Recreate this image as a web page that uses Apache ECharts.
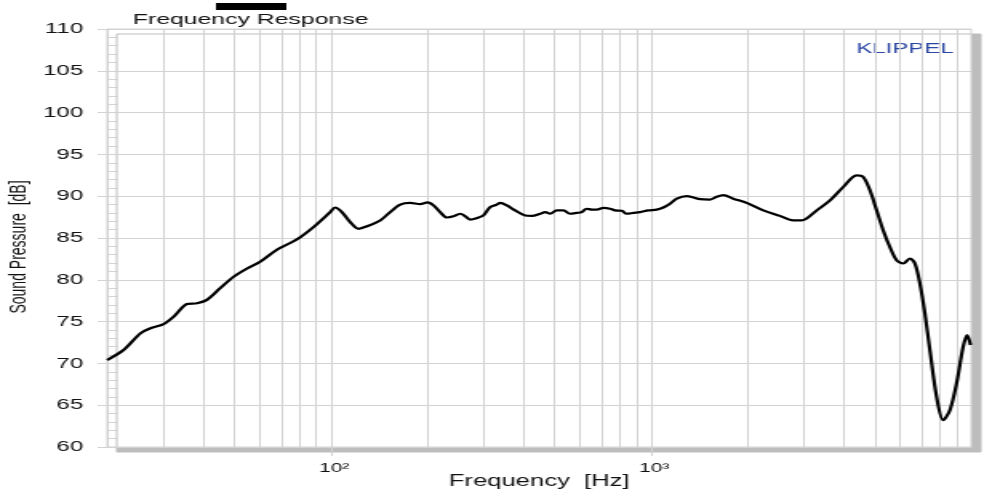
<!DOCTYPE html>
<html><head><meta charset="utf-8">
<script src="https://cdn.jsdelivr.net/npm/echarts@6/dist/echarts.min.js"></script>
<style>
html,body{margin:0;padding:0;background:#fff;overflow:hidden}
#wrap{width:984px;height:493px;overflow:hidden}
#c{width:615px;height:493px;transform:scaleX(1.6);transform-origin:0 0}
</style>
</head><body><div id="wrap"><div id="c"></div></div>
<script>
// Frequency response (Hz -> dB SPL)
const freqHz = [20, 22.5, 25.4, 27.3, 30, 32.3, 35.5, 38.2, 41, 45.1, 49.6, 54.7, 60.1, 67.8, 74.6, 80.2, 88.2, 99.5, 103.1, 108.2, 114.9, 122, 129.5, 142.5, 153.1, 164.6,
  176.9, 190, 200.3, 209.1, 219.4, 230.3, 241.5, 253.4, 262.7, 272.2, 289, 299.6, 314.3, 329.8, 337.8, 354.4, 376.2, 404.3, 424.2, 450.3, 466.9, 483.9, 507.7, 532.4, 558.6, 586.1, 607.5, 629.8, 652.9, 676.8, 709.7, 744.7, 772, 810.1, 839.7, 880.5, 924.1, 980.8,
  1042, 1092.5, 1146.4, 1203, 1293, 1356, 1422, 1528, 1604, 1682, 1806, 1990, 2242, 2528, 2782, 2954, 3291, 3622, 3985, 4387, 4601, 4828, 5068, 5313, 5576, 5850, 6134, 6436, 6673, 6917, 7170, 7430, 7798, 8176, 8580, 9004, 9441, 9716, 9956];
const splDb = [70.4, 71.6, 73.6, 74.2, 74.7, 75.6, 77.1, 77.2, 77.6, 79.0, 80.35, 81.35, 82.15, 83.6, 84.4, 85.1, 86.3, 88.1, 88.65, 88.1, 86.9, 86.1, 86.4, 87.1, 88.1, 89.0,
  89.2, 89.05, 89.25, 88.9, 88.1, 87.45, 87.6, 87.9, 87.6, 87.2, 87.45, 87.7, 88.7, 89.0, 89.2, 88.9, 88.3, 87.7, 87.65, 87.9, 88.1, 87.9, 88.3, 88.3, 87.9, 88.0, 88.1, 88.5, 88.4, 88.4, 88.6, 88.5, 88.3, 88.25, 87.9, 88.0, 88.1, 88.3,
  88.4, 88.65, 89.1, 89.7, 90.0, 89.85, 89.65, 89.6, 89.93, 90.13, 89.7, 89.2, 88.3, 87.65, 87.1, 87.1, 88.3, 89.5, 91.1, 92.5, 92.3, 90.7, 88.3, 85.9, 83.9, 82.35, 81.95, 82.55, 81.95, 79.55, 75.97, 71.6, 66.0, 63.2, 64.4, 67.6, 72.0, 73.4, 72.2];

const xLabelValues = [100, 1000];
const xLabelTexts = ['10²', '10³'];
const xGridValues = [30, 40, 50, 60, 70, 80, 90, 100, 200, 300, 400, 500, 600, 700, 800, 900, 1000, 2000, 3000, 4000, 5000, 6000, 7000, 8000, 9000];
const xRange = [20, 10000];
const yRange = [60, 110];
const yMajorStep = 5;
const yMinorStep = 1;

const seriesName = 'Frequency Response';
const xName = 'Frequency  [Hz]';
const yName = 'Sound Pressure  [dB]';
const brandText = 'KLIPPEL';

const FONT = '"Liberation Sans", Arial, sans-serif';
const GRID = '#d3d3d3';

const chart = echarts.init(document.getElementById('c'), null, {renderer: 'canvas'});
chart.setOption({
  animation: false,
  backgroundColor: '#fff',
  title: {
    text: seriesName, left: 83, top: 12, padding: 0,
    textStyle: {fontFamily: FONT, fontSize: 15.5, fontWeight: 'normal', color: '#111'}
  },
  graphic: [
    {type: 'rect', left: 135, top: 3, shape: {width: 44, height: 7}, style: {fill: '#000'}},
    {type: 'text', right: 19, top: 41, style: {text: brandText, font: '15px "Liberation Sans", Arial, sans-serif', fill: '#2c46a3'}}
  ],
  grid: {
    left: 67, right: 8, top: 29, bottom: 46, show: true, containLabel: false, outerBoundsMode: 'none',
    backgroundColor: '#fff', borderColor: GRID, borderWidth: 1,
    shadowColor: '#bdbdbd', shadowBlur: 0, shadowOffsetX: 6, shadowOffsetY: 5
  },
  xAxis: [
    {
      type: 'log', logBase: 10, min: xRange[0], max: xRange[1], position: 'bottom',
      name: xName, nameLocation: 'middle', nameGap: 27, nameMoveOverlap: false,
      nameTextStyle: {fontFamily: FONT, fontSize: 16, color: '#111'},
      axisLine: {show: true, lineStyle: {color: GRID}},
      axisTick: {show: true, length: 9, customValues: xLabelValues, lineStyle: {color: GRID}},
      axisLabel: {
        show: true, margin: 15, customValues: xLabelValues, fontFamily: FONT, fontSize: 13, color: '#111',
        padding: [0, 0, 0, 4],
        formatter: v => { const i = xLabelValues.findIndex(t => Math.abs(t - v) < 1e-6 * t); return i >= 0 ? xLabelTexts[i] : ''; }
      },
      splitLine: {show: false}
    },
    {
      type: 'log', logBase: 10, min: xRange[0], max: xRange[1], position: 'bottom',
      axisLine: {show: false},
      axisTick: {show: false, customValues: xGridValues},
      axisLabel: {show: false, customValues: xGridValues},
      splitLine: {show: true, lineStyle: {color: GRID, width: 1}}
    }
  ],
  yAxis: [
    {
      type: 'value', min: yRange[0], max: yRange[1], interval: yMajorStep, position: 'left',
      name: yName, nameLocation: 'middle', nameGap: 48, nameMoveOverlap: false,
      nameTextStyle: {fontFamily: FONT, fontSize: 14, color: '#111', padding: [0, 18, 0, 0]},
      axisLine: {show: true, lineStyle: {color: GRID}},
      axisTick: {show: true, inside: false, length: 6, lineStyle: {color: GRID}},
      axisLabel: {margin: 15, fontFamily: FONT, fontSize: 15, color: '#111'},
      splitLine: {show: true, lineStyle: {color: GRID, width: 1}}
    },
    {
      type: 'value', min: yRange[0], max: yRange[1], interval: yMinorStep, position: 'left',
      axisLine: {show: false},
      axisTick: {show: true, inside: true, length: 7, lineStyle: {color: GRID}},
      axisLabel: {show: false},
      splitLine: {show: false}
    }
  ],
  series: [{
    name: seriesName, type: 'line', xAxisIndex: 0, yAxisIndex: 0,
    data: freqHz.map((f, i) => [f, splDb[i]]),
    showSymbol: false, symbol: 'none', smooth: 0.3,
    lineStyle: {color: '#000', width: 2.2, join: 'round'}
  }]
});
</script>
</body></html>
